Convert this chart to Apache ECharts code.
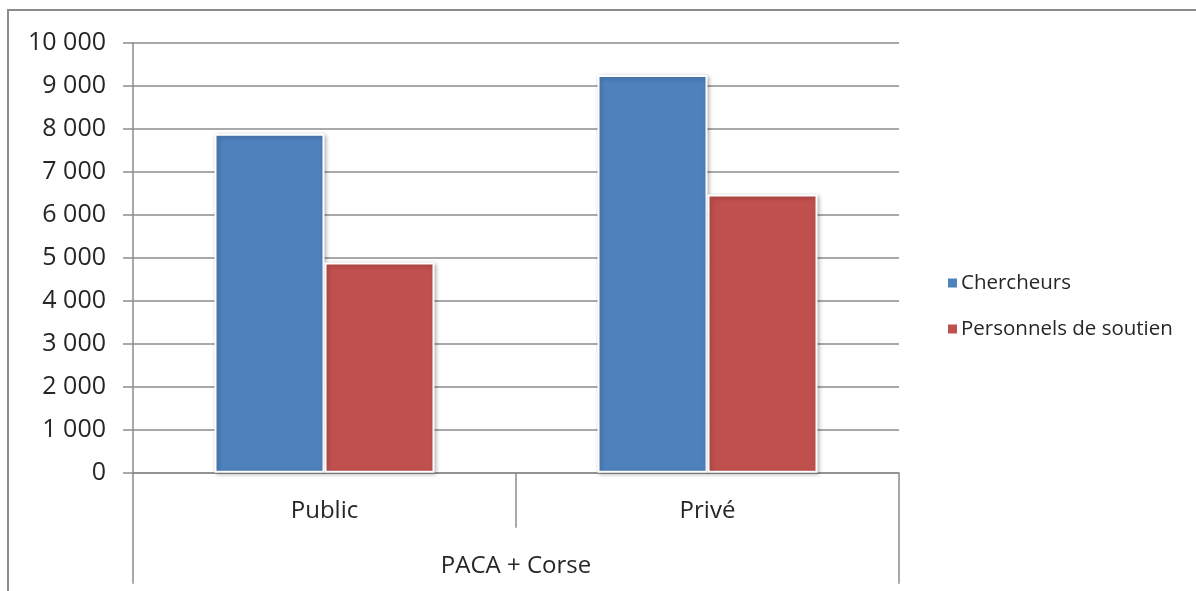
<!DOCTYPE html>
<html>
<head>
<meta charset="utf-8">
<script src="https://cdn.jsdelivr.net/npm/echarts@6/dist/echarts.min.js"></script>
<style>
  html, body { margin: 0; padding: 0; background: #fff; }
  #chart { width: 1196px; height: 591px; }
</style>
</head>
<body>
<div id="chart"></div>
<script>
// Effectifs de R&D par secteur, PACA + Corse
const categories = ['Public', 'Privé'];
const groupLabel = ['PACA + Corse'];
const chercheurs = [7880, 9250];
const personnelsSoutien = [4890, 6470];
const seriesNames = ['Chercheurs', 'Personnels de soutien'];

const FONT = '"Open Sans", Lato, "Liberation Sans", sans-serif';
const TEXT = '#262626';
const LINE = '#8c8c8c';

const fmt = v => String(v).replace(/\B(?=(\d{3})+(?!\d))/g, ' ');

const chart = echarts.init(document.getElementById('chart'), null, { renderer: 'canvas' });

const barStyle = color => ({
  color: color,
  borderColor: '#ffffff',
  borderWidth: 2,
  shadowColor: 'rgba(0,0,0,0.28)',
  shadowBlur: 4,
  shadowOffsetX: 1.5,
  shadowOffsetY: 1.5
});

chart.setOption({
  animation: false,
  backgroundColor: '#ffffff',
  graphic: [{
    type: 'rect',
    shape: { x: 8, y: 10, width: 1200, height: 600 },
    style: { fill: 'none', stroke: LINE, lineWidth: 2 },
    silent: true
  }],
  grid: { left: 133, right: 297, top: 42.7, bottom: 118.3, containLabel: false },
  legend: {
    orient: 'vertical',
    left: 941,
    top: 267,
    itemWidth: 11,
    itemHeight: 11,
    itemGap: 24,
    icon: 'rect',
    data: seriesNames,
    textStyle: { fontFamily: FONT, fontSize: 20.5, color: TEXT, lineHeight: 22, padding: [0, 0, 0, -2] }
  },
  xAxis: [{
    type: 'category',
    data: categories,
    position: 'bottom',
    axisLine: { show: true, lineStyle: { color: LINE, width: 1.5 } },
    axisTick: { show: true, length: 55, alignWithLabel: false, lineStyle: { color: LINE, width: 1.5 } },
    axisLabel: { margin: 26, fontFamily: FONT, fontSize: 24, color: TEXT },
    splitLine: { show: false }
  }, {
    type: 'category',
    data: groupLabel,
    position: 'bottom',
    axisLine: { show: false },
    axisTick: { show: true, length: 111, lineStyle: { color: LINE, width: 1.5 } },
    axisLabel: { margin: 81, fontFamily: FONT, fontSize: 24, color: TEXT },
    splitLine: { show: false }
  }],
  yAxis: {
    type: 'value',
    min: 0,
    max: 10000,
    interval: 1000,
    axisLine: { show: true, lineStyle: { color: LINE, width: 1.5 } },
    axisTick: { show: true, inside: false, length: 10, lineStyle: { color: LINE, width: 1.5 } },
    axisLabel: { margin: 27, fontFamily: FONT, fontSize: 25, color: TEXT, formatter: fmt },
    splitLine: { show: true, lineStyle: { color: LINE, width: 1.5 } }
  },
  series: [{
    name: seriesNames[0],
    type: 'bar',
    xAxisIndex: 0,
    data: chercheurs,
    barWidth: 110,
    barGap: '0%',
    itemStyle: barStyle('#4f81bd')
  }, {
    name: seriesNames[1],
    type: 'bar',
    xAxisIndex: 0,
    data: personnelsSoutien,
    barWidth: 110,
    barGap: '0%',
    itemStyle: barStyle('#c0504d')
  }]
});
</script>
</body>
</html>
